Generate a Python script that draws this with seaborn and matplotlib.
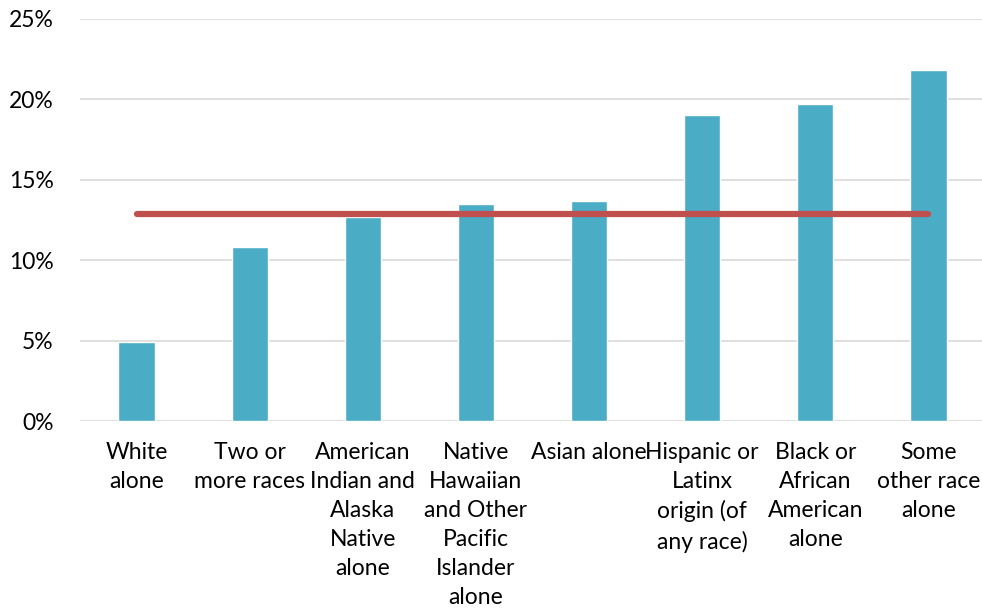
import matplotlib
matplotlib.use("Agg")
import matplotlib.pyplot as plt
import seaborn as sns
import pandas as pd
from matplotlib.ticker import FuncFormatter

categories = ["White\nalone", "Two or\nmore races", "American\nIndian and\nAlaska\nNative\nalone",
              "Native\nHawaiian\nand Other\nPacific\nIslander\nalone", "Asian alone",
              "Hispanic or\nLatinx\norigin (of\nany race)", "Black or\nAfrican\nAmerican\nalone",
              "Some\nother race\nalone"]
values = [4.9, 10.8, 12.7, 13.5, 13.7, 19.0, 19.7, 21.8]
average = [12.9] * 8

sns.set_theme(style="white")
plt.rcParams['font.family'] = ['Lato', 'DejaVu Sans']

df = pd.DataFrame({"cat": categories, "val": values, "avg": average})

fig = plt.figure(figsize=(9.82, 6.14), dpi=100)
ax = fig.add_axes([80/982, 1-421/614, 905/982, (421-19)/614])

sns.barplot(data=df, x="cat", y="val", color="#4BACC6", saturation=1, width=0.32, ax=ax, zorder=3)
sns.lineplot(data=df, x="cat", y="avg", color="#C0504D", linewidth=4.5, ax=ax, zorder=4,
             solid_capstyle="round", sort=False)

ax.set_ylim(0, 25)
ax.set_xlim(-0.5, 7.5)
ax.set_yticks([0, 5, 10, 15, 20, 25])
ax.yaxis.set_major_formatter(FuncFormatter(lambda v, p: f"{int(v)}%"))
ax.grid(axis="y", color="#D9D9D9", linewidth=1.2, zorder=0)
ax.set_axisbelow(True)
for s in ax.spines.values():
    s.set_visible(False)
ax.set_xlabel("")
ax.set_ylabel("")
ax.tick_params(axis="both", length=0, labelsize=16.5, colors="#000000")
ax.tick_params(axis="y", pad=19)
ax.tick_params(axis="x", pad=15)
for lbl in ax.get_xticklabels():
    lbl.set_linespacing(1.47)

fig.savefig("out.png", dpi=100)
